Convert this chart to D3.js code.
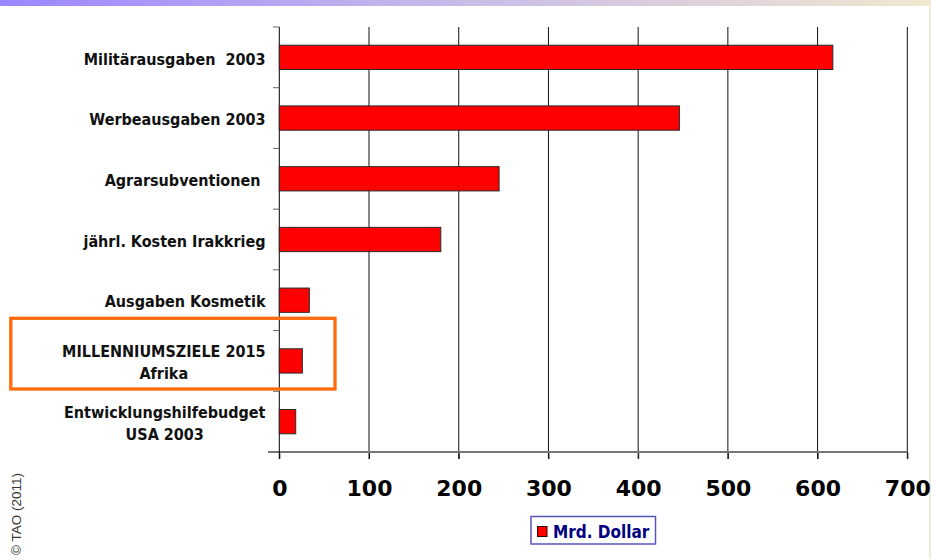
<!DOCTYPE html>
<html>
<head>
<meta charset="utf-8">
<script src="https://cdn.jsdelivr.net/npm/d3@7"></script>
<style>
html,body{margin:0;padding:0;background:#fff;}
svg{display:block;}
</style>
</head>
<body>
<svg id="chart" width="931" height="559"></svg>
<script>
const categories = [
  "Militärausgaben  2003",
  "Werbeausgaben 2003",
  "Agrarsubventionen ",
  "jährl. Kosten Irakkrieg",
  "Ausgaben Kosmetik",
  "MILLENNIUMSZIELE 2015\nAfrika",
  "Entwicklungshilfebudget\nUSA 2003"
];
const values = [617, 446, 245, 180, 33.5, 25.7, 18.3];
const xTicks = [0, 100, 200, 300, 400, 500, 600, 700];
const seriesName = "Mrd. Dollar";
const copyright = "© TAO (2011)";

const svg = d3.select("#chart");
const labelFont = "'DejaVu Sans Condensed', 'DejaVu Sans', sans-serif";

// top gradient band
const defs = svg.append("defs");
const grad = defs.append("linearGradient").attr("id", "topgrad").attr("x1", "0").attr("x2", "1").attr("y1", "0").attr("y2", "0");
grad.append("stop").attr("offset", "0").attr("stop-color", "#9c86ff");
grad.append("stop").attr("offset", "0.45").attr("stop-color", "#c6b6ea");
grad.append("stop").attr("offset", "1").attr("stop-color", "#f0e8cf");
svg.append("rect").attr("x", 0).attr("y", 0).attr("width", 931).attr("height", 6).attr("fill", "url(#topgrad)");
svg.append("rect").attr("x", 929).attr("y", 6).attr("width", 2).attr("height", 553).attr("fill", "#f1ead6");

const x = d3.scaleLinear().domain([0, 700]).range([279.3, 907.3]);
const y = d3.scaleBand().domain(categories).range([27, 452]).paddingInner(0.6).paddingOuter(0.3);
const step = y.step();

// gridlines
svg.append("g").selectAll("line").data(xTicks.slice(1)).join("line")
  .attr("x1", d => x(d)).attr("x2", d => x(d))
  .attr("y1", 27).attr("y2", 459)
  .attr("stroke", "#111").attr("stroke-width", 1);

// x axis
const xAxis = svg.append("g").attr("transform", "translate(0,452)")
  .call(d3.axisBottom(x).tickValues(xTicks).tickSize(7).tickSizeOuter(0).tickPadding(21));
xAxis.select(".domain").remove();
xAxis.selectAll(".tick line").attr("stroke", "#111");
xAxis.selectAll(".tick text")
  .attr("font-family", "'DejaVu Sans', sans-serif")
  .attr("font-weight", "bold").attr("font-size", 22).attr("fill", "#000");
svg.append("line").attr("x1", 268).attr("x2", 907.3).attr("y1", 452).attr("y2", 452)
  .attr("stroke", "#777").attr("stroke-width", 2);

// y axis line + ticks at category boundaries
const bounds = d3.range(categories.length).map(i => y.range()[0] + i * step);
svg.append("line").attr("x1", 279.3).attr("x2", 279.3).attr("y1", 27).attr("y2", 459)
  .attr("stroke", "#000").attr("stroke-width", 1);
svg.append("g").selectAll("line").data(bounds).join("line")
  .attr("x1", 273).attr("x2", 279.3)
  .attr("y1", d => d).attr("y2", d => d)
  .attr("stroke", "#666").attr("stroke-width", 1);

// bars
svg.append("g").selectAll("rect").data(categories).join("rect")
  .attr("x", x(0))
  .attr("y", d => y(d))
  .attr("width", (d, i) => x(values[i]) - x(0))
  .attr("height", y.bandwidth())
  .attr("fill", "#ff0000")
  .attr("stroke", "#2a2a2a").attr("stroke-width", 1);

// category labels
const labelRight = 265.5;
const lg = svg.append("g");
categories.forEach(c => {
  const lines = c.split("\n");
  const cy = y(c) + y.bandwidth() / 2;
  const lh = 22;
  const t = lg.append("text")
    .attr("font-family", labelFont).attr("font-weight", "bold").attr("font-size", 16)
    .attr("fill", "#111").attr("xml:space", "preserve").style("white-space", "pre");
  const spans = lines.map((l, i) => t.append("tspan").text(l)
    .attr("y", cy + (i - (lines.length - 1) / 2) * lh).attr("dy", "0.45em"));
  if (lines.length === 1) {
    t.attr("text-anchor", "end");
    spans[0].attr("x", labelRight);
  } else {
    const w = d3.max(spans, s => s.node().getComputedTextLength());
    t.attr("text-anchor", "middle");
    spans.forEach(s => s.attr("x", labelRight - w / 2));
  }
});

// highlight box
svg.append("rect").attr("x", 10.8).attr("y", 318.3).attr("width", 324.2).attr("height", 70.7)
  .attr("fill", "none").attr("stroke", "#ff6a0e").attr("stroke-width", 3.3);

// legend
const leg = svg.append("g");
leg.append("rect").attr("x", 531).attr("y", 516.5).attr("width", 124.5).attr("height", 27.5)
  .attr("fill", "#fff").attr("stroke", "#5555c0").attr("stroke-width", 1.5);
leg.append("rect").attr("x", 537.5).attr("y", 526.5).attr("width", 9.5).attr("height", 10)
  .attr("fill", "#ff0000").attr("stroke", "#300").attr("stroke-width", 1);
leg.append("text").attr("x", 553).attr("y", 537.5).text(seriesName)
  .attr("font-family", labelFont).attr("font-weight", "bold").attr("font-size", 17).attr("fill", "#000080");

// copyright
svg.append("text").attr("transform", "translate(21,555) rotate(-90)")
  .attr("font-family", "'Liberation Sans', Arial, sans-serif").attr("font-size", 13.5).attr("fill", "#333")
  .text(copyright);
</script>
</body>
</html>
